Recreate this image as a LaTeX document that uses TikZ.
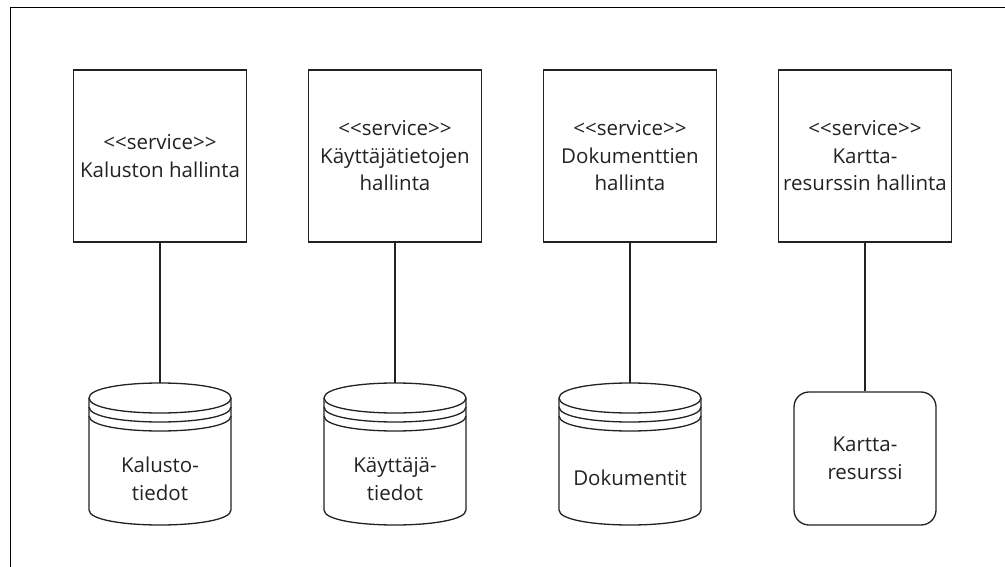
\documentclass[tikz,border=0pt]{standalone}
\usepackage{fontspec}
\setmainfont{Open Sans}[Ligatures=TeXOff]
\definecolor{ink}{HTML}{222222}
\newcommand\drawstore[1]{%
  % body outline: top ellipse back half, sides and bottom front half
  \draw[line] (#1-71,398) .. controls (#1-71,378) and (#1+71,378) .. (#1+71,398)
    -- (#1+71,510) .. controls (#1+71,530) and (#1-71,530) .. (#1-71,510) -- cycle;
  % front half of the top ellipse and the two rims under it
  \draw[line] (#1-71,398) .. controls (#1-71,418) and (#1+71,418) .. (#1+71,398);
  \draw[line] (#1-71,407) .. controls (#1-71,427) and (#1+71,427) .. (#1+71,407);
  \draw[line] (#1-71,416) .. controls (#1-71,436) and (#1+71,436) .. (#1+71,416);
}
\begin{document}
\begin{tikzpicture}[x=1pt,y=-1pt,
  line/.style={draw=ink, line width=1.3pt},
  txt/.style={font=\fontsize{20.5}{27.5}\selectfont, text=ink, align=center},
  service/.style={line, txt, minimum width=173pt, minimum height=172pt, inner sep=0pt},
  storebox/.style={minimum width=142pt, minimum height=142pt, inner sep=0pt},
  resource/.style={line, txt, rounded corners=15pt, minimum width=142pt, minimum height=133pt, inner sep=0pt}]
\useasboundingbox (0,0) rectangle (1005,567);
\clip (0,0) rectangle (1005,567);
% outer frame
\draw[draw=black, line width=1.5pt] (10.5,7.5) rectangle (1015,580);

% services
\node[service] (s1) at (160,156) {<<service>>\\Kaluston hallinta};
\node[service] (s2) at (395,156) {<<service>>\\Käyttäjätietojen\\hallinta};
\node[service] (s3) at (630,156) {<<service>>\\Dokumenttien\\hallinta};
\node[service] (s4) at (865,156) {<<service>>\\Kartta-\\resurssin hallinta};

% data stores
\node[storebox] (d1) at (160,454) {};
\node[storebox] (d2) at (395,454) {};
\node[storebox] (d3) at (630,454) {};
\drawstore{160}
\drawstore{395}
\drawstore{630}
\node[txt] (t1) at (160,479) {Kalusto-\\tiedot};
\node[txt] (t2) at (395,479) {Käyttäjä-\\tiedot};
\node[txt] (t3) at (630,478) {Dokumentit};

% map resource
\node[resource] (r4) at (865,458.5) {Kartta-\\resurssi};

% connectors
\draw[line] (s1) -- (d1);
\draw[line] (s2) -- (d2);
\draw[line] (s3) -- (d3);
\draw[line] (s4) -- (r4);
\end{tikzpicture}
\end{document}
